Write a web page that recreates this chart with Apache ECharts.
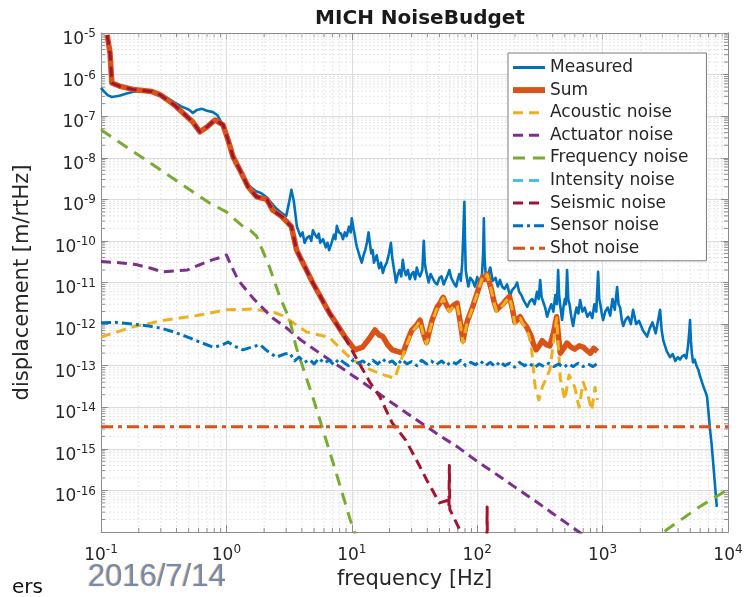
<!DOCTYPE html>
<html>
<head>
<meta charset="utf-8">
<script src="https://cdn.jsdelivr.net/npm/echarts@6/dist/echarts.min.js"></script>
<style>
  html, body { margin: 0; padding: 0; background: #fff; }
  #chart { width: 746px; height: 597px; }
</style>
</head>
<body>
<div id="chart"></div>
<script>
// MICH noise budget: amplitude spectral densities [m/rtHz] vs frequency [Hz]
const measured = [
  [0.1, 4.8e-7], [0.105, 4e-7], [0.113, 3.2e-7], [0.122, 2.9e-7], [0.14, 3.1e-7], [0.16, 3.5e-7],
  [0.185, 3.9e-7], [0.22, 4.2e-7], [0.255, 4.1e-7], [0.3, 3.4e-7], [0.34, 2.7e-7], [0.39, 2.1e-7],
  [0.44, 1.7e-7], [0.5, 1.45e-7], [0.54, 1.2e-7], [0.58, 1.4e-7], [0.64, 1.5e-7], [0.7, 1.35e-7],
  [0.78, 1.25e-7], [0.85, 1.05e-7], [0.9, 7.5e-8], [0.95, 5.5e-8], [1.03, 2.8e-8], [1.13, 1.1e-8],
  [1.28, 5.3e-9], [1.4, 3e-9], [1.55, 2e-9], [1.7, 1.6e-9], [1.9, 1.4e-9], [2.1, 1.1e-9],
  [2.3, 8e-10], [2.5, 6e-10], [2.8, 4.5e-10], [3.0, 4e-10], [3.15, 8e-10], [3.3, 1.7e-9],
  [3.45, 9e-10], [3.65, 2.2e-10], [3.9, 1.3e-10], [4.05, 1.6e-10], [4.2, 9e-11], [4.4, 1.2e-10],
  [4.6, 1.3e-10], [4.75, 1e-10], [4.9, 1.8e-10], [5.1, 1.4e-10], [5.3, 1.2e-10], [5.45, 1.5e-10],
  [5.6, 9e-11], [5.9, 1.1e-10], [6.2, 7e-11], [6.4, 9e-11], [6.6, 6e-11], [6.9, 9e-11],
  [7.2, 1.4e-10], [7.4, 1.1e-10], [7.6, 2.3e-10], [7.9, 1.6e-10], [8.2, 1.5e-10], [8.5, 1.1e-10],
  [8.8, 1.6e-10], [9.1, 1.3e-10], [9.5, 2.2e-10], [9.8, 1.6e-10], [10.0, 3.5e-10], [10.3, 2e-10],
  [10.5, 1.5e-10], [10.8, 9e-11], [11.0, 7e-11], [11.5, 4.5e-11], [12.0, 3e-11], [12.4, 4.5e-11],
  [12.8, 6e-11], [13.2, 9e-11], [13.6, 1.6e-10], [14.0, 8e-11], [14.3, 5e-11], [14.7, 6e-11],
  [15.0, 3e-11], [15.8, 4.5e-11], [16.5, 2.2e-11], [17.1, 3e-11], [17.7, 1.7e-11], [18.3, 2.4e-11],
  [19, 3e-11], [19.8, 5e-11], [20.5, 9e-11], [21, 4e-11], [21.5, 2.5e-11], [22, 1.6e-11],
  [22.5, 1e-11], [23.2, 1.5e-11], [24, 2e-11], [24.8, 1.4e-11], [25.5, 3.5e-11], [26.2, 2e-11],
  [27, 1.5e-11], [28, 2e-11], [29, 1.2e-11], [30, 1.6e-11], [31, 1.8e-11], [32, 1.2e-11],
  [33, 2.3e-11], [34, 1.6e-11], [35, 1.4e-11], [36.5, 2e-11], [37.5, 1e-10], [38.2, 3e-11],
  [39, 2e-11], [40, 1.4e-11], [41, 1e-11], [42.5, 1.6e-11], [44, 1.5e-11], [46, 1e-11],
  [48, 9e-12], [50, 1.3e-11], [52, 1.4e-11], [54, 9e-12], [56, 1e-11], [58, 1.5e-11],
  [60, 2e-11], [62, 1.3e-11], [64, 1.2e-11], [66, 9e-12], [68, 8e-12], [70, 1.2e-11],
  [72, 1.6e-11], [74, 1.1e-11], [76, 3e-11], [77.5, 1.5e-10], [79, 8.7e-10], [80, 1e-10],
  [81, 2e-11], [83, 1.2e-11], [85, 8e-12], [88, 1.3e-11], [92, 1.1e-11], [96, 8e-12],
  [100, 1.35e-11], [103, 1e-11], [106, 9e-12], [109, 1.4e-11], [111.5, 5e-11], [113, 3.5e-10],
  [114.5, 4e-11], [117, 1.5e-11], [121, 1.1e-11], [124, 1.8e-11], [127, 2.3e-11], [133, 1.1e-11],
  [140, 1.3e-11], [146, 8e-12], [152, 1.15e-11], [158, 8e-12], [165, 7e-12], [173, 9e-12],
  [183, 4.6e-12], [189, 6.5e-12], [195, 6e-12], [201, 8e-12], [208, 1e-11], [216, 6e-12],
  [225, 5e-12], [237, 3.5e-12], [251, 2.6e-12], [262, 3.5e-12], [275, 4e-12], [287, 3e-12],
  [300, 6e-12], [309, 4e-12], [318, 1.15e-11], [326, 4.5e-12], [335, 5e-12], [348, 2.5e-12],
  [361, 1.5e-12], [375, 2.2e-12], [390, 3e-12], [405, 2e-12], [420, 5e-12], [432, 3e-12],
  [442, 2e-11], [450, 5e-12], [458, 3e-12], [466, 2e-12], [475, 1.25e-12], [487, 2.5e-12],
  [500, 4e-12], [510, 3e-12], [521, 2e-11], [532, 4e-12], [545, 3e-12], [563, 1.5e-12],
  [582, 9e-13], [600, 1.6e-12], [620, 2.5e-12], [640, 1.8e-12], [662, 3.8e-12], [690, 2e-12],
  [720, 2.5e-12], [755, 1.5e-12], [795, 1.9e-12], [828, 1.4e-12], [860, 3e-12], [890, 2e-12],
  [921, 1.8e-11], [940, 4e-12], [960, 3e-12], [985, 1.8e-12], [1009, 1.25e-12], [1050, 2e-12],
  [1100, 2.5e-12], [1150, 1.6e-12], [1200, 4e-12], [1250, 2.2e-12], [1306, 7.8e-12], [1340, 3e-12],
  [1380, 2.5e-12], [1420, 1.3e-12], [1460, 9e-13], [1530, 1.3e-12], [1600, 1.5e-12], [1680, 1e-12],
  [1750, 2.2e-12], [1850, 1e-12], [1950, 1.2e-12], [2100, 7e-13], [2264, 5e-13], [2380, 8e-13],
  [2500, 1.1e-12], [2650, 6e-13], [2874, 2.2e-12], [2960, 7e-13], [3050, 4e-13], [3250, 2.2e-13],
  [3450, 1.6e-13], [3620, 1.9e-13], [3800, 1.3e-13], [3980, 1.6e-13], [4146, 1.4e-13], [4320, 1.7e-13],
  [4500, 1.8e-13], [4650, 1.5e-13], [4800, 3e-13], [4900, 6e-13], [4980, 1.25e-12], [5060, 4e-13],
  [5150, 2e-13], [5260, 1.2e-13], [5420, 1.4e-13], [5600, 1e-13], [5800, 8e-14], [5980, 5.6e-14],
  [6200, 4e-14], [6400, 3e-14], [6600, 2.4e-14], [6800, 1.8e-14], [6980, 8e-15], [7150, 3.4e-15],
  [7400, 1.3e-15], [7600, 5e-16], [7900, 1.2e-16], [8140, 4e-17]
];

const sumNoise = [
  [0.112, 9e-6], [0.118, 3.3e-6], [0.122, 6.3e-7], [0.14, 5.3e-7], [0.18, 4.4e-7], [0.255, 3.9e-7],
  [0.3, 3.2e-7], [0.336, 2.5e-7], [0.39, 1.8e-7], [0.442, 1.26e-7], [0.54, 7.2e-8], [0.615, 4.2e-8],
  [0.7, 5.5e-8], [0.81, 8.1e-8], [0.94, 6.2e-8], [1.03, 2.7e-8], [1.13, 1.05e-8], [1.28, 5.1e-9],
  [1.49, 2e-9], [1.74, 1.15e-9], [2.1, 1e-9], [2.34, 5.5e-10], [2.78, 3.8e-10], [3.3, 2.2e-10],
  [3.63, 6e-11], [4.87, 1e-11], [6.6, 1.9e-12], [8.8, 5e-13], [10.6, 2.4e-13], [12.2, 2.8e-13],
  [13.8, 4.5e-13], [15.3, 7.2e-13], [16.5, 5.5e-13], [17.7, 5e-13], [19.3, 3.2e-13], [21, 2.4e-13],
  [23, 2.2e-13], [25.6, 2e-13], [27.8, 4e-13], [30, 7e-13], [32.5, 9e-13], [35, 1.25e-12],
  [37.2, 6e-13], [39.5, 3.6e-13], [43.5, 1.2e-12], [48, 2.6e-12], [50.5, 3.2e-12], [53.5, 4.4e-12],
  [56.5, 3e-12], [60, 2.2e-12], [64.5, 2.8e-12], [69, 3.2e-12], [73, 1.2e-12], [77, 4e-13],
  [80.5, 8e-13], [84, 1.25e-12], [92, 2.6e-12], [100, 5.6e-12], [105, 9e-12], [110, 1.35e-11],
  [115, 1.2e-11], [120, 1.6e-11], [125, 1e-11], [130, 6.6e-12], [136, 3.5e-12], [143, 2.2e-12],
  [151, 2.6e-12], [160, 3e-12], [170, 3.8e-12], [181, 4.6e-12], [190, 2.5e-12], [200, 1.1e-12],
  [210, 1.3e-12], [220, 1.5e-12], [232, 1.1e-12], [245, 9e-13], [257, 7e-13], [270, 5e-13],
  [282, 3.2e-13], [295, 2.4e-13], [312, 3e-13], [330, 4e-13], [355, 3.2e-13], [380, 3e-13],
  [405, 6e-13], [430, 1.5e-12], [445, 5e-13], [460, 2e-13], [490, 2.6e-13], [520, 3.5e-13],
  [560, 2.8e-13], [600, 2.5e-13], [650, 3e-13], [700, 2.8e-13], [750, 2.3e-13], [800, 2e-13],
  [850, 2.6e-13], [910, 2.2e-13]
];

const acousticNoise = [
  [0.1, 4.9e-13], [0.18, 8.6e-13], [0.33, 1.26e-12], [0.58, 1.6e-12], [1.0, 2.2e-12], [1.63, 2.3e-12],
  [2.4, 1.9e-12], [2.8, 1.6e-12], [4.4, 6.4e-13], [6.6, 4.8e-13], [10, 1.4e-13], [14, 8e-14],
  [18, 6e-14], [22, 5e-14], [25, 1.5e-13], [27.8, 3.5e-13], [30, 6.5e-13], [32.5, 8.5e-13],
  [35, 1.2e-12], [37.2, 5.5e-13], [39.5, 3.3e-13], [43.5, 1.1e-12], [48, 2.5e-12], [50.5, 3e-12],
  [53.5, 4.2e-12], [56.5, 2.8e-12], [60, 2e-12], [64.5, 2.6e-12], [69, 3e-12], [73, 1.1e-12],
  [77, 3.5e-13], [80.5, 7e-13], [84, 1.2e-12], [92, 2.5e-12], [100, 5.4e-12], [105, 8.5e-12],
  [110, 1.3e-11], [115, 1.15e-11], [120, 1.55e-11], [125, 9.5e-12], [130, 6.3e-12], [136, 3.3e-12],
  [143, 2e-12], [151, 2.4e-12], [160, 2.8e-12], [170, 3.6e-12], [181, 4.4e-12], [190, 2.3e-12],
  [200, 1e-12], [210, 1.2e-12], [220, 1.4e-12], [232, 1e-12], [245, 8e-13], [257, 5.5e-13],
  [270, 3e-13], [290, 3e-14], [310, 1.5e-14], [330, 3e-14], [380, 8e-14], [430, 1.4e-12],
  [460, 5e-14], [500, 1.5e-14], [540, 6e-14], [600, 3e-14], [650, 1e-14], [700, 4e-14],
  [760, 2e-14], [820, 8.5e-15], [870, 3e-14], [910, 1.5e-14]
];

const actuatorNoise = [
  [0.1, 3.2e-11], [0.14, 3e-11], [0.19, 2.7e-11], [0.25, 2.2e-11], [0.31, 1.8e-11], [0.38, 1.9e-11],
  [0.49, 2e-11], [0.6, 2.6e-11], [0.77, 3.5e-11], [0.9, 4e-11], [1.0, 4.6e-11], [1.07, 2.9e-11],
  [1.24, 1.15e-11], [1.63, 4.2e-12], [2.34, 1.4e-12], [3.03, 8e-13], [3.9, 4.2e-13], [6, 1.7e-13],
  [10, 6e-14], [15, 2.6e-14], [20, 1.4e-14], [30, 6e-15], [50, 2.1e-15], [70, 1.1e-15],
  [100, 5e-16], [150, 2.2e-16], [200, 1.2e-16], [300, 5.2e-17], [400, 2.8e-17], [620, 1.1e-17],
  [800, 6.5e-18]
];

const frequencyNoise = [
  [0.1, 4.7e-8], [0.2, 1.15e-8], [0.4, 2.8e-9], [0.74, 8e-10], [1.0, 5e-10], [1.36, 2.2e-10],
  [1.55, 1.8e-10], [1.74, 1.3e-10], [2.2, 2.4e-11], [2.67, 4.5e-12], [3.2, 1.26e-12], [3.6, 2.8e-13],
  [4.87, 1.8e-14], [7.1, 4.6e-16], [9.7, 2e-17], [12, 3e-18],
  [2500, 3e-18], [3200, 1.1e-17], [5900, 4e-17], [9700, 1e-16], [10000, 1.05e-16]
];

const intensityNoise = [];

const seismicNoise = [
  [0.112, 9e-6], [0.118, 3.3e-6], [0.122, 6.3e-7], [0.14, 5.3e-7], [0.18, 4.4e-7], [0.255, 3.9e-7],
  [0.3, 3.2e-7], [0.336, 2.5e-7], [0.39, 1.8e-7], [0.442, 1.26e-7], [0.54, 7.2e-8], [0.615, 4.2e-8],
  [0.7, 5.5e-8], [0.81, 8.1e-8], [0.94, 6.2e-8], [1.03, 2.7e-8], [1.13, 1.05e-8], [1.28, 5.1e-9],
  [1.49, 2e-9], [1.74, 1.15e-9], [2.1, 1e-9], [2.34, 5.5e-10], [2.78, 3.8e-10], [3.3, 2.2e-10],
  [3.63, 6e-11], [4.87, 1e-11], [6.6, 1.9e-12], [8.8, 4.8e-13], [9.7, 2.8e-13], [14, 3.9e-14],
  [16.7, 1.8e-14], [21, 4.2e-15], [27, 1.6e-15], [35, 3.7e-16], [39.5, 1.8e-16], [50, 5e-17],
  [57, 5.7e-17], [59.5, 4e-17], [60, 4e-16], [60.5, 3.5e-17], [73, 1.1e-17], [80, 5e-18],
  [119, 1e-18], [120, 4e-17], [121, 1e-18]
];

const sensorNoise = [
  [0.1, 1.07e-12], [0.13, 1.1e-12], [0.18, 1e-12], [0.24, 9e-13], [0.3, 8e-13], [0.38, 6.5e-13],
  [0.48, 5e-13], [0.6, 3.8e-13], [0.78, 2.8e-13], [0.9, 3e-13], [1.03, 3.7e-13], [1.15, 3e-13],
  [1.35, 2.4e-13], [1.6, 2.8e-13], [1.85, 3.2e-13], [2.1, 2.3e-13], [2.5, 1.6e-13], [2.9, 1.9e-13],
  [3.2, 2e-13], [3.5, 1.3e-13], [3.8, 1.6e-13], [4.2, 1.2e-13], [4.6, 1.4e-13], [5.0, 1.1e-13],
  [5.5, 1.5e-13], [6.0, 1.15e-13], [6.6, 1.35e-13], [7.2, 1.05e-13], [7.9, 1.45e-13], [8.6, 1.2e-13],
  [9.4, 1.0e-13], [10.3, 1.4e-13], [11.2, 1.15e-13], [12.3, 1.3e-13], [13.4, 1.0e-13], [14.7, 1.35e-13],
  [16.1, 1.1e-13], [17.6, 1.45e-13], [19.2, 1.15e-13], [21, 1.3e-13], [23, 1.0e-13], [25, 1.4e-13],
  [27.5, 1.1e-13], [30, 1.25e-13], [33, 1.0e-13], [36, 1.35e-13], [39.5, 1.1e-13], [43, 1.3e-13],
  [47, 1.05e-13], [52, 1.3e-13], [57, 1.0e-13], [62, 1.25e-13], [68, 1.1e-13], [74, 1.35e-13],
  [81, 1.0e-13], [89, 1.2e-13], [97, 1.05e-13], [106, 1.3e-13], [116, 1.0e-13], [127, 1.2e-13],
  [139, 0.95e-13], [152, 1.25e-13], [166, 1.0e-13], [182, 1.15e-13], [199, 0.92e-13], [218, 1.2e-13],
  [238, 1.0e-13], [260, 1.15e-13], [285, 0.9e-13], [312, 1.1e-13], [341, 0.95e-13], [373, 1.15e-13],
  [408, 0.95e-13], [446, 1.1e-13], [488, 0.9e-13], [534, 1.1e-13], [584, 0.95e-13], [639, 1.15e-13],
  [699, 0.95e-13], [765, 1.1e-13], [837, 0.95e-13], [900, 1.1e-13]
];

const shotNoise = [[0.1, 3.4e-15], [10000, 3.4e-15]];

const legendNames = ['Measured', 'Sum', 'Acoustic noise', 'Actuator noise', 'Frequency noise',
  'Intensity noise', 'Seismic noise', 'Sensor noise', 'Shot noise'];

const xRange = [0.1, 1e4];
const yRange = [1e-17, 1e-5];

// minor grid positions (2..9 x 10^k) inside each axis range
function minorValues(lo, hi) {
  const out = [];
  for (let e = Math.round(Math.log10(lo)); e < Math.round(Math.log10(hi)); e++) {
    for (let k = 2; k <= 9; k++) out.push(k * Math.pow(10, e));
  }
  return out;
}
const xMinor = minorValues(xRange[0], xRange[1]);
const yMinor = minorValues(yRange[0], yRange[1]);

const FONT = 'DejaVu Sans';
const TXT = '#262626';
const BOX = '#8c8c8c';

function tickLabel(v) {
  return '{b|10}{s|' + Math.round(Math.log10(v)) + '}';
}
const labelRich = {
  b: { fontSize: 17, fontFamily: FONT, color: TXT, verticalAlign: 'bottom' },
  s: { fontSize: 12, fontFamily: FONT, color: TXT, verticalAlign: 'bottom', padding: [0, 0, 8, 0] }
};

function renderMinorX(params, api) {
  const cs = params.coordSys;
  const x = api.coord([api.value(0), 1e-10])[0];
  const b = cs.y + cs.height;
  return { type: 'group', children: [
    { type: 'line', shape: { x1: x, y1: cs.y, x2: x, y2: b }, style: { stroke: '#e6e6e6', lineWidth: 1, lineDash: [2, 2] } },
    { type: 'line', shape: { x1: x, y1: b, x2: x, y2: b - 4 }, style: { stroke: BOX, lineWidth: 1 } },
    { type: 'line', shape: { x1: x, y1: cs.y, x2: x, y2: cs.y + 4 }, style: { stroke: BOX, lineWidth: 1 } }
  ]};
}
function renderMinorY(params, api) {
  const cs = params.coordSys;
  const y = api.coord([1, api.value(1)])[1];
  const r = cs.x + cs.width;
  return { type: 'group', children: [
    { type: 'line', shape: { x1: cs.x, y1: y, x2: r, y2: y }, style: { stroke: '#e6e6e6', lineWidth: 1, lineDash: [2, 2] } },
    { type: 'line', shape: { x1: cs.x, y1: y, x2: cs.x + 4, y2: y }, style: { stroke: BOX, lineWidth: 1 } },
    { type: 'line', shape: { x1: r, y1: y, x2: r - 4, y2: y }, style: { stroke: BOX, lineWidth: 1 } }
  ]};
}

function lineSeries(name, data, color, width, type, z) {
  return {
    name, type: 'line', data, symbol: 'none', showSymbol: false, z: z || 3,
    lineStyle: { color, width, type: type || 'solid', cap: 'butt', join: 'round' },
    itemStyle: { color },
    emphasis: { disabled: true }
  };
}

const legendWidths = { 'Measured': 3, 'Sum': 6 };

const chart = echarts.init(document.getElementById('chart'), null, { renderer: 'canvas' });
chart.setOption({
  animation: false,
  backgroundColor: '#fff',
  title: {
    text: 'MICH NoiseBudget', left: 415, top: 4, textAlign: 'center',
    textStyle: { fontFamily: FONT, fontSize: 20, fontWeight: 'bold', color: '#1a1a1a' }
  },
  grid: { left: 101, top: 33, right: 18, bottom: 65, containLabel: false },
  legend: {
    orient: 'vertical', left: 508, top: 53,
    data: legendNames.map(n => ({ name: n, lineStyle: { width: legendWidths[n] || 3 } })),
    itemWidth: 32, itemHeight: 14, itemGap: 5.6,
    padding: [6, 18, 4, 2],
    backgroundColor: '#fff', borderColor: '#7a7a7a', borderWidth: 1, borderRadius: 0,
    itemStyle: { opacity: 0 },
    textStyle: { fontFamily: FONT, fontSize: 17, color: TXT },
    selectedMode: false
  },
  xAxis: [{
    type: 'log', logBase: 10, min: xRange[0], max: xRange[1], interval: 1, splitNumber: 5,
    name: 'frequency [Hz]', nameLocation: 'middle', nameGap: 37,
    nameTextStyle: { fontFamily: FONT, fontSize: 21, color: TXT },
    axisLine: { show: true, lineStyle: { color: BOX, width: 1 } },
    axisTick: { show: true, inside: true, length: 7, lineStyle: { color: BOX } },
    axisLabel: { formatter: tickLabel, rich: labelRich, margin: 12 },
    splitLine: { show: true, lineStyle: { color: '#dcdcdc', width: 1 } },
    minorTick: { show: false }, minorSplitLine: { show: false }
  }, {
    type: 'log', logBase: 10, min: xRange[0], max: xRange[1], interval: 1, splitNumber: 5, position: 'top',
    axisLine: { show: true, lineStyle: { color: BOX, width: 1 } },
    axisTick: { show: true, inside: true, length: 7, lineStyle: { color: BOX } },
    axisLabel: { show: false }, splitLine: { show: false }
  }],
  yAxis: [{
    type: 'log', logBase: 10, min: yRange[0], max: yRange[1], interval: 1, splitNumber: 12,
    name: 'displacement [m/rtHz]', nameLocation: 'middle', nameGap: 68,
    nameTextStyle: { fontFamily: FONT, fontSize: 21, color: TXT },
    axisLine: { show: true, lineStyle: { color: BOX, width: 1 } },
    axisTick: { show: true, inside: true, length: 7, lineStyle: { color: BOX } },
    axisLabel: { formatter: tickLabel, rich: labelRich, margin: 5, showMinLabel: false, padding: [10, 0, 0, 0] },
    splitLine: { show: true, lineStyle: { color: '#dcdcdc', width: 1 } }
  }, {
    type: 'log', logBase: 10, min: yRange[0], max: yRange[1], interval: 1, splitNumber: 12, position: 'right',
    axisLine: { show: true, lineStyle: { color: BOX, width: 1 } },
    axisTick: { show: true, inside: true, length: 7, lineStyle: { color: BOX } },
    axisLabel: { show: false }, splitLine: { show: false }
  }],
  graphic: [
    { type: 'text', left: 88, top: 562, silent: true,
      style: { text: '2016/7/14', font: '31px "Liberation Sans"', fill: '#6f8db3',
               textShadowColor: 'rgba(230,150,80,0.8)', textShadowOffsetX: -1, textShadowBlur: 1 } },
    { type: 'text', left: 12, top: 578, silent: true,
      style: { text: 'ers', font: '20px "DejaVu Sans"', fill: '#111' } }
  ],
  series: [
    { type: 'custom', name: 'minor-x', data: xMinor.map(v => [v, 1e-10]), renderItem: renderMinorX,
      silent: true, z: 1, encode: { x: 0, y: 1 } },
    { type: 'custom', name: 'minor-y', data: yMinor.map(v => [1, v]), renderItem: renderMinorY,
      silent: true, z: 1, encode: { x: 0, y: 1 } },
    lineSeries('Measured', measured, '#0072BD', 2.6),
    lineSeries('Sum', sumNoise, '#D95319', 5.5),
    lineSeries('Acoustic noise', acousticNoise, '#EDB120', 3, [10, 6]),
    lineSeries('Actuator noise', actuatorNoise, '#7E2F8E', 3, [10, 6]),
    lineSeries('Frequency noise', frequencyNoise, '#77AC30', 3, [12, 8]),
    lineSeries('Intensity noise', intensityNoise, '#4DBEEE', 3, [10, 6]),
    lineSeries('Seismic noise', seismicNoise, '#A2142F', 3, [10, 6]),
    lineSeries('Sensor noise', sensorNoise, '#0072BD', 3, [10, 4, 3, 4]),
    lineSeries('Shot noise', shotNoise, '#D95319', 3, [12, 5, 4, 5])
  ]
});
</script>
</body>
</html>
